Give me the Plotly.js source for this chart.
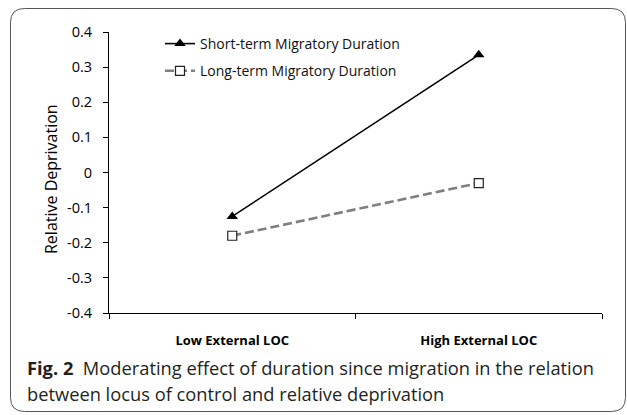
<!DOCTYPE html>
<html><head><meta charset="utf-8">
<script src="https://cdn.plot.ly/plotly-3.0.1.min.js"></script>
<style>html,body{margin:0;padding:0;background:#fff}#chart{width:627px;height:415px}</style>
</head><body><div id="chart"></div>
<script>
const categories = ["Low External LOC", "High External LOC"];
const shortTerm = [-0.125, 0.335];
const longTerm = [-0.18, -0.03];
const seriesNames = ["Short-term Migratory Duration", "Long-term Migratory Duration"];
const yTicks = [-0.4, -0.3, -0.2, -0.1, 0, 0.1, 0.2, 0.3, 0.4];
const yTickText = ["-0.4", "-0.3", "-0.2", "-0.1", "0", "0.1", "0.2", "0.3", "0.4"];
const yTitle = "Relative Deprivation";

const W = 627, H = 415;
const L = 109, R = 25, T = 32, B = 102;
const pw = W - L - R, ph = H - T - B;
function px(x){ return (x - L) / pw; }
function py(y){ return (H - B - y) / ph; }

const bx0 = 10.5, bx1 = 625.5, by0 = 8.5, by1 = 411.5, r = 14;
function P(x, y){ return px(x).toFixed(5) + "," + py(y).toFixed(5); }
const borderPath = "M" + P(bx0 + r, by0) + " L" + P(bx1 - r, by0) +
  " Q" + P(bx1, by0) + " " + P(bx1, by0 + r) +
  " L" + P(bx1, by1 - r) + " Q" + P(bx1, by1) + " " + P(bx1 - r, by1) +
  " L" + P(bx0 + r, by1) + " Q" + P(bx0, by1) + " " + P(bx0, by1 - r) +
  " L" + P(bx0, by0 + r) + " Q" + P(bx0, by0) + " " + P(bx0 + r, by0) + " Z";

const traces = [
  {x: categories, y: shortTerm, name: seriesNames[0], legendgroup: "a", type: "scatter", mode: "lines+markers",
   line: {color: "#000", width: 1.6}, marker: {symbol: "triangle-up", size: 10, color: "#000"}},
  {x: categories, y: longTerm, name: seriesNames[1], legendgroup: "b", type: "scatter", mode: "lines+markers",
   line: {color: "#7f7f7f", width: 2.6, dash: "9px,4px"},
   marker: {symbol: "square", size: 9, color: "#fff", line: {width: 1.2, color: "#222"}}}
];

const layout = {
  width: W, height: H,
  margin: {l: L, r: R, t: T, b: B, pad: 0},
  paper_bgcolor: "#fff", plot_bgcolor: "#fff",
  font: {family: "Open Sans, sans-serif", color: "#000", size: 12},
  showlegend: true,
  legend: {x: px(160), y: py(28), xanchor: "left", yanchor: "top",
           bgcolor: "rgba(0,0,0,0)", font: {size: 14, family: "Open Sans, sans-serif", color: "#111"},
           tracegroupgap: 6, itemwidth: 30},
  xaxis: {type: "category", tickson: "boundaries", showline: true, linecolor: "#000", linewidth: 1,
          ticks: "outside", ticklen: 5, tickcolor: "#000", showgrid: false, zeroline: false,
          tickfont: {size: 13, family: "Open Sans, sans-serif", weight: "bold"},
          ticklabelstandoff: 15, range: [-0.5, 1.5], fixedrange: true},
  yaxis: {range: [-0.4, 0.4], tickvals: yTicks, ticktext: yTickText, showline: true,
          linecolor: "#000", linewidth: 1, ticks: "outside", ticklen: 5, tickcolor: "#000",
          showgrid: false, zeroline: false, tickfont: {size: 14.5}, ticklabelstandoff: 8},
  shapes: [{type: "path", xref: "paper", yref: "paper", path: borderPath,
            line: {color: "#555", width: 1}, fillcolor: "rgba(0,0,0,0)"}],
  annotations: [
    {xref: "paper", yref: "paper", x: px(51), y: py(179), xanchor: "center", yanchor: "middle",
     showarrow: false, textangle: -90, text: yTitle,
     font: {size: 16, color: "#000", family: "Open Sans, sans-serif"}},
    {xref: "paper", yref: "paper", x: px(25), y: py(367), xanchor: "left", yanchor: "middle",
     showarrow: false, align: "left",
     text: "<b>Fig. 2</b>  Moderating effect of duration since migration in the relation",
     font: {size: 18.3, color: "#231f20", family: "Open Sans, sans-serif"}},
    {xref: "paper", yref: "paper", x: px(25), y: py(393), xanchor: "left", yanchor: "middle",
     showarrow: false, align: "left",
     text: "between locus of control and relative deprivation",
     font: {size: 18.3, color: "#231f20", family: "Open Sans, sans-serif"}}
  ]
};

Plotly.newPlot("chart", traces, layout, {staticPlot: true, displayModeBar: false});
</script></body></html>
